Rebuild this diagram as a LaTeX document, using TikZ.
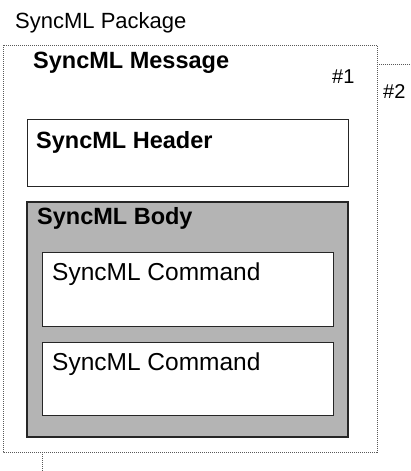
\documentclass[tikz,border=0pt]{standalone}
\usepackage{fontspec}
\setmainfont{Liberation Sans}
\definecolor{bodygray}{HTML}{B4B4B4}
\tikzset{
  msgframe/.style={draw=black!65, line width=0.6pt, dash pattern=on 1pt off 1pt, fill=white},
  plainbox/.style={draw=black!85, line width=0.9pt, fill=white},
  bodybox/.style={draw=black!85, line width=1.4pt, fill=bodygray},
  lbl/.style={anchor=base west, inner sep=0pt, text=black},
  boldlbl/.style={lbl, font=\fontsize{23.5}{23.5}\selectfont\bfseries},
  cmdlbl/.style={lbl, font=\fontsize{24.5}{24.5}\selectfont},
  numlbl/.style={lbl, font=\fontsize{20}{20}\selectfont},
}
\begin{document}
\begin{tikzpicture}[x=1pt,y=-1pt]
  \useasboundingbox (0,0) rectangle (411,471);

  % second message, lying behind the first
  \draw[msgframe] (42,64) rectangle (430,490);
  % first message
  \draw[msgframe] (3,45) rectangle (377,452);

  \node[lbl, font=\fontsize{22}{22}\selectfont] (pkg) at (15,28) {SyncML Package};
  \node[boldlbl] (msg) at (33,68) {SyncML Message};
  \node[numlbl] (n1) at (332,83) {\#1};
  \node[numlbl] (n2) at (383,98) {\#2};

  % header
  \draw[plainbox] (27,119) rectangle (348,186);
  \node[boldlbl] (hdr) at (36,148) {SyncML Header};

  % body with its commands
  \draw[bodybox] (27,202) rectangle (348,437);
  \node[boldlbl] (bdy) at (37,224) {SyncML Body};
  \draw[plainbox] (42,252) rectangle (333,326);
  \node[cmdlbl] (cmd1) at (52,280) {SyncML Command};
  \draw[plainbox] (42,342) rectangle (333,415);
  \node[cmdlbl] (cmd2) at (52,370) {SyncML Command};
\end{tikzpicture}
\end{document}
